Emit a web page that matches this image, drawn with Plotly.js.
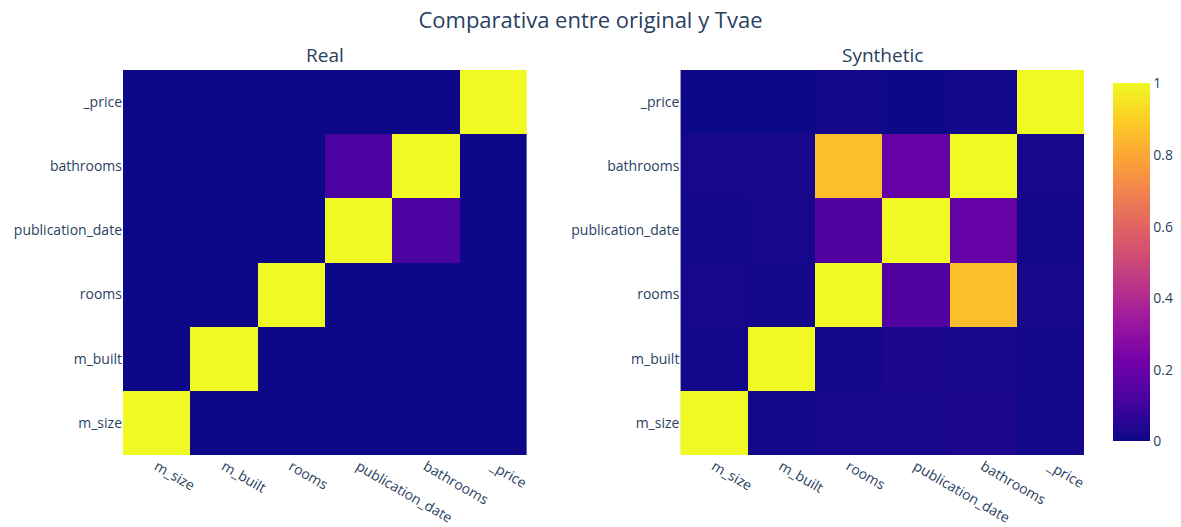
<!DOCTYPE html>
<html>
<head>
<meta charset="utf-8">
<script src="https://cdn.plot.ly/plotly-3.0.1.min.js"></script>
<style>html,body{margin:0;padding:0;background:#fff;}#chart{width:1181px;height:527px;}</style>
</head>
<body>
<div id="chart"></div>
<script>
const columns = ["m_size", "m_built", "rooms", "publication_date", "bathrooms", "_price"];

// rows follow columns order (bottom to top)
const realCorr = [
  [1, 0, 0, 0, 0, 0],
  [0, 1, 0, 0, 0, 0],
  [0, 0, 1, 0, 0, 0],
  [0, 0, 0, 1, 0.12, 0],
  [0, 0, 0, 0.12, 1, 0],
  [0, 0, 0, 0, 0, 1]
];

const syntheticCorr = [
  [1, 0.01, 0.02, 0.02, 0.03, 0.01],
  [0.01, 1, 0.01, 0.03, 0.02, 0.01],
  [0.02, 0.01, 1, 0.14, 0.86, 0.02],
  [0.01, 0.02, 0.14, 1, 0.19, 0.01],
  [0.02, 0.02, 0.86, 0.19, 1, 0.02],
  [0, 0, 0.01, 0, 0.01, 1]
];

const mainTitle = "Comparativa entre original y Tvae";
const subTitles = ["Real", "Synthetic"];

const plasmaColors = ["#0d0887", "#46039f", "#7201a8", "#9c179e", "#bd3786",
                      "#d8576b", "#ed7953", "#fb9f3a", "#fdca26", "#f0f921"];
const plasma = plasmaColors.map((c, i) => [i / (plasmaColors.length - 1), c]);

const data = [
  {type: "heatmap", x: columns, y: columns, z: realCorr, xaxis: "x", yaxis: "y", coloraxis: "coloraxis"},
  {type: "heatmap", x: columns, y: columns, z: syntheticCorr, xaxis: "x2", yaxis: "y2", coloraxis: "coloraxis"}
];

const font = {family: '"Open Sans", verdana, arial, sans-serif', color: "#2a3f5f", size: 14};
const axisCommon = {type: "category", tickangle: 30, showgrid: false, zeroline: false, ticks: "",
                    tickfont: {size: 14, color: "#2a3f5f"}};

const layout = {
  width: 1181, height: 527,
  font: font,
  paper_bgcolor: "#fff", plot_bgcolor: "#E5ECF6",
  margin: {l: 123, r: 97, t: 70, b: 72, autoexpand: false},
  title: {text: mainTitle, x: 0.5, xanchor: "center", y: 0.962, yanchor: "middle", font: {size: 22}},
  coloraxis: {colorscale: plasma, cmin: 0, cmax: 1,
    colorbar: {thickness: 37, outlinewidth: 0, x: 1.02, xanchor: "left", xpad: 10,
               y: 0.5, yanchor: "middle", len: 0.93, ypad: 0,
               tickvals: [0, 0.2, 0.4, 0.6, 0.8, 1], ticks: "", tickfont: {size: 14}}},
  xaxis: Object.assign({domain: [0, 0.42], anchor: "y"}, axisCommon),
  yaxis: Object.assign({domain: [0, 1], anchor: "x"}, axisCommon, {tickangle: 0}),
  xaxis2: Object.assign({domain: [0.58, 1], anchor: "y2"}, axisCommon),
  yaxis2: Object.assign({domain: [0, 1], anchor: "x2"}, axisCommon, {tickangle: 0}),
  annotations: [
    {text: subTitles[0], x: 0.21, y: 1, xref: "paper", yref: "paper", xanchor: "center", yanchor: "bottom", showarrow: false, font: {size: 19}},
    {text: subTitles[1], x: 0.79, y: 1, xref: "paper", yref: "paper", xanchor: "center", yanchor: "bottom", showarrow: false, font: {size: 19}}
  ]
};

Plotly.newPlot("chart", data, layout, {displayModeBar: false});
</script>
</body>
</html>
